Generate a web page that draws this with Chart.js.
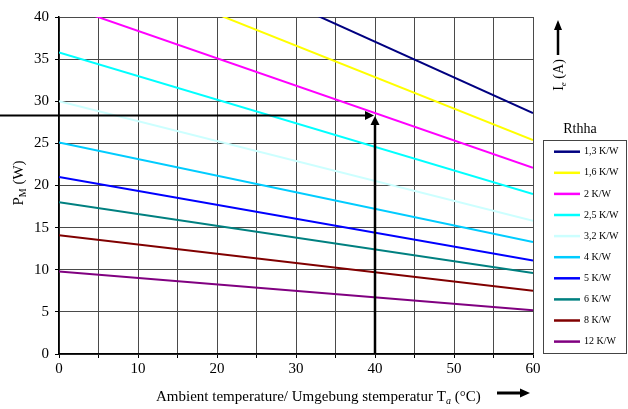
<!DOCTYPE html>
<html><head><meta charset="utf-8">
<script src="https://cdn.jsdelivr.net/npm/chart.js@4.4.0/dist/chart.umd.min.js"></script>
<style>html,body{margin:0;padding:0;background:#fff;}#wrap{width:628px;height:409px;}</style>
</head><body><div id="wrap"><canvas id="c" width="628" height="409"></canvas></div>
<script>
// ---- data ----
const temperatures = [0, 60];           // Ambient temperature Ta (°C)
const seriesLabels = ['1,3 K/W','1,6 K/W','2 K/W','2,5 K/W','3,2 K/W','4 K/W','5 K/W','6 K/W','8 K/W','12 K/W'];
const r13 = [54.0, 28.6];
const r16 = [47.8, 25.4];
const r20 = [41.6, 22.1];
const r25 = [35.8, 19.0];
const r32 = [30.0, 15.8];
const r40 = [25.1, 13.3];
const r50 = [21.0, 11.1];
const r60 = [18.0, 9.6];
const r80 = [14.1, 7.5];
const r120 = [9.8, 5.2];
const xTickLabels = [0, 10, 20, 30, 40, 50, 60];
const yTickLabels = [0, 5, 10, 15, 20, 25, 30, 35, 40];
const markerTemp = 40;
const markerPower = 28.3;

// ---- styles ----
const seriesValues = [r13, r16, r20, r25, r32, r40, r50, r60, r80, r120];
const seriesColors = ['#000080','#FFFF00','#FF00FF','#00FFFF','#CCFFFF','#00CCFF','#0000FF','#008080','#800000','#800080'];
const SERIF = "'Liberation Serif','Times New Roman',serif";

const datasets = seriesValues.map((vals, i) => ({
  label: seriesLabels[i],
  data: temperatures.map((t, j) => ({x: t, y: vals[j]})),
  borderColor: seriesColors[i],
  backgroundColor: seriesColors[i],
  borderWidth: 2,
  pointRadius: 0,
  fill: false,
  tension: 0
}));

function arrowHead(ctx, tx, ty, dir, len, half) {
  ctx.beginPath();
  if (dir === 'right') { ctx.moveTo(tx, ty); ctx.lineTo(tx - len, ty - half); ctx.lineTo(tx - len, ty + half); }
  if (dir === 'up') { ctx.moveTo(tx, ty); ctx.lineTo(tx - half, ty + len); ctx.lineTo(tx + half, ty + len); }
  ctx.closePath(); ctx.fill();
}

function drawSegments(ctx, segs, x, y) {
  let cx = x;
  segs.forEach(s => {
    ctx.font = s.font;
    ctx.fillText(s.text, cx, y + (s.dy || 0));
    cx += ctx.measureText(s.text).width;
  });
  return cx;
}
function segWidth(ctx, segs) {
  let w = 0;
  segs.forEach(s => { ctx.font = s.font; w += ctx.measureText(s.text).width; });
  return w;
}

const decorPlugin = {
  id: 'decor',
  afterDraw(chart) {
    const ctx = chart.ctx;
    const xs = chart.scales.x, ys = chart.scales.y, ca = chart.chartArea;
    ctx.save();
    ctx.fillStyle = '#000'; ctx.strokeStyle = '#000';

    // marker arrows
    const xp = xs.getPixelForValue(markerTemp);
    const yp = ys.getPixelForValue(markerPower);
    ctx.lineWidth = 2;
    ctx.beginPath(); ctx.moveTo(0, yp); ctx.lineTo(xp - 8, yp); ctx.stroke();
    arrowHead(ctx, xp - 1, yp, 'right', 9, 4.5);
    ctx.lineWidth = 2.5;
    ctx.beginPath(); ctx.moveTo(xp, ca.bottom); ctx.lineTo(xp, yp + 8); ctx.stroke();
    arrowHead(ctx, xp, yp + 0.5, 'up', 9, 4.5);

    // y title P_M (W)
    ctx.textBaseline = 'alphabetic';
    const ySegs = [
      {text: 'P', font: '15px ' + SERIF},
      {text: 'M', font: '10px ' + SERIF, dy: 3},
      {text: ' (W)', font: '15px ' + SERIF}
    ];
    ctx.save();
    ctx.translate(23, 183); ctx.rotate(-Math.PI / 2);
    drawSegments(ctx, ySegs, -segWidth(ctx, ySegs) / 2, 0);
    ctx.restore();

    // x title
    const xSegs = [
      {text: 'Ambient temperature/ Umgebung stemperatur T', font: '15px ' + SERIF},
      {text: 'a', font: 'italic 10px ' + SERIF, dy: 3},
      {text: ' (°C)', font: '15px ' + SERIF}
    ];
    drawSegments(ctx, xSegs, 156, 401);
    ctx.lineWidth = 3;
    ctx.beginPath(); ctx.moveTo(497, 393); ctx.lineTo(522, 393); ctx.stroke();
    arrowHead(ctx, 530, 393, 'right', 10, 4.5);

    // I_e (A) with up arrow
    const iSegs = [
      {text: 'I', font: '14px ' + SERIF},
      {text: 'e', font: 'italic 9px ' + SERIF, dy: 3},
      {text: ' (A)', font: '14px ' + SERIF}
    ];
    ctx.save();
    ctx.translate(563, 75); ctx.rotate(-Math.PI / 2);
    drawSegments(ctx, iSegs, -segWidth(ctx, iSegs) / 2, 0);
    ctx.restore();
    ctx.lineWidth = 2.5;
    ctx.beginPath(); ctx.moveTo(558, 55); ctx.lineTo(558, 28); ctx.stroke();
    arrowHead(ctx, 558, 20, 'up', 10, 4);

    // legend
    ctx.font = '14px ' + SERIF;
    ctx.textAlign = 'center';
    ctx.fillText('Rthha', 580, 133);
    ctx.textAlign = 'left';
    ctx.lineWidth = 1;
    ctx.strokeStyle = '#444';
    ctx.strokeRect(543.5, 140.5, 83, 213);
    ctx.font = '10px ' + SERIF;
    ctx.textBaseline = 'middle';
    chart.data.datasets.forEach((ds, i) => {
      const yy = 151.7 + i * 21.1;
      ctx.strokeStyle = ds.borderColor; ctx.lineWidth = 2.5;
      ctx.beginPath(); ctx.moveTo(554, yy); ctx.lineTo(580, yy); ctx.stroke();
      ctx.fillStyle = '#000';
      ctx.fillText(ds.label, 584, yy);
    });
    ctx.restore();
  }
};

new Chart(document.getElementById('c'), {
  type: 'line',
  data: { datasets },
  options: {
    responsive: false,
    animation: false,
    devicePixelRatio: 1,
    layout: { padding: { top: 17, right: 95, left: 0, bottom: 0 } },
    plugins: { legend: { display: false }, tooltip: { enabled: false } },
    scales: {
      x: {
        type: 'linear', min: 0, max: 60,
        afterFit(s) { s.height = 55; },
        afterBuildTicks(s) {
          const t = [];
          for (let v = 0; v <= 60; v += 5) t.push({value: v});
          s.ticks = t;
        },
        ticks: {
          autoSkip: false, maxRotation: 0, color: '#000', padding: 2,
          font: { family: SERIF, size: 15 },
          callback: v => xTickLabels.includes(v) ? String(v) : ''
        },
        grid: { color: '#4a4a4a', lineWidth: 1, tickLength: 4, tickColor: '#000' },
        border: { color: '#000', width: 1.5 }
      },
      y: {
        type: 'linear', min: 0, max: 40,
        afterFit(s) { s.width = 59; },
        afterBuildTicks(s) { s.ticks = yTickLabels.map(v => ({value: v})); },
        ticks: {
          color: '#000', padding: 6,
          font: { family: SERIF, size: 15 }
        },
        grid: { color: '#4a4a4a', lineWidth: 1, tickLength: 4, tickColor: '#000' },
        border: { color: '#000', width: 1.5 }
      }
    }
  },
  plugins: [decorPlugin]
});
</script></body></html>
